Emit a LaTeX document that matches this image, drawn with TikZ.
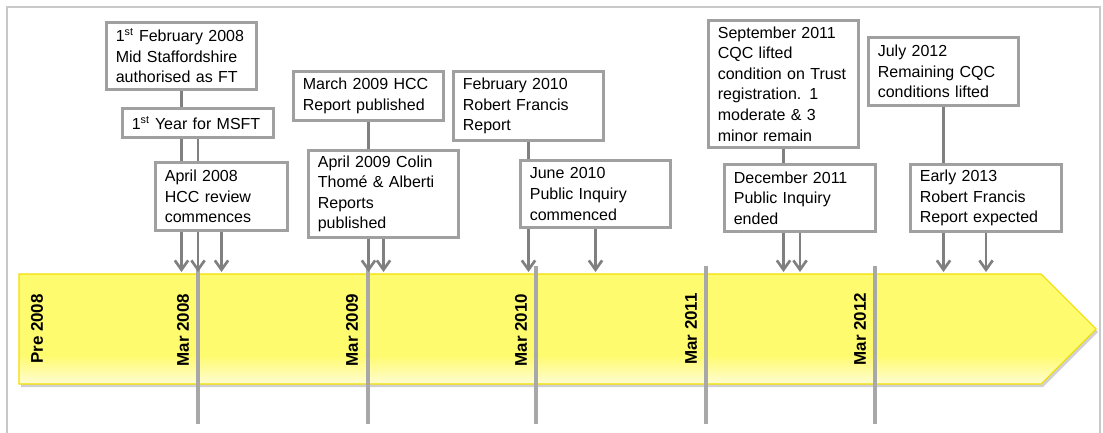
\documentclass[tikz,border=0pt]{standalone}
\usepackage{fontspec}
\setmainfont{Liberation Sans}
\usetikzlibrary{arrows.meta,backgrounds}
\definecolor{framegray}{HTML}{C8C8C8}
\definecolor{boxgray}{HTML}{A0A0A0}
\definecolor{conngray}{HTML}{808080}
\definecolor{markgray}{HTML}{A8A8A8}
\definecolor{bandyel}{HTML}{FFFB6F}
\definecolor{bandlight}{HTML}{FFFDD2}
\definecolor{bandedge}{HTML}{F2DE00}
\pgfdeclareverticalshading{bandshade}{100bp}{color(0bp)=(bandlight); color(25bp)=(bandlight); color(38bp)=(bandyel); color(100bp)=(bandyel)}
\newcommand{\tlbox}[6]{%
  \pgfmathsetmacro{\tlbw}{(#4-#2-3)*0.75}%
  \pgfmathsetmacro{\tlbh}{(#5-#3-3)*0.75}%
  \pgfmathsetmacro{\tltw}{\tlbw-14}%
  \node[evbox, minimum width=\tlbw pt, minimum height=\tlbh pt, text width=\tltw pt] (#1) at ({(#2+#4)/2},{(#3+#5)/2}) {#6};}
\begin{document}
\begin{tikzpicture}[x=0.75pt,y=-0.75pt,
  evbox/.style={draw=boxgray, line width=2.2pt, fill=white, align=left, inner xsep=7pt, inner ysep=1pt, font=\fontsize{12pt}{15.4pt}\selectfont},
  conn/.style={draw=conngray, line width=2pt, -{Straight Barb[length=7pt,width=10pt]}},
  marker/.style={draw=markgray, line width=2.6pt},
  yrlabel/.style={rotate=90, font=\fontsize{12.7pt}{15pt}\selectfont\bfseries, inner sep=0pt}]
\useasboundingbox (0,0) rectangle (1103,432);

% event boxes
\tlbox{b1}{105}{21}{258}{91}{1\textsuperscript{st} February 2008\\Mid Staffordshire\\authorised as FT}
\tlbox{b2}{121}{107}{275}{139}{1\textsuperscript{st} Year for MSFT}
\tlbox{b3}{154}{161}{289}{232}{April 2008\\HCC review\\commences}
\tlbox{b4}{292}{70}{445}{122}{March 2009 HCC\\Report published}
\tlbox{b5}{307}{149}{460}{239}{April 2009 Colin\\Thomé \& Alberti\\Reports\\published}
\tlbox{b6}{452}{70}{605}{142}{February 2010\\Robert Francis\\Report}
\tlbox{b7}{519}{159}{672}{229}{June 2010\\Public Inquiry\\commenced}
\tlbox{b8}{707}{19}{860}{149}{September 2011\\CQC lifted\\condition on Trust\\registration. 1\\moderate \& 3\\minor remain}
\tlbox{b9}{867}{36}{1020}{107}{July 2012\\Remaining CQC\\conditions lifted}
\tlbox{b10}{723}{163}{877}{233}{December 2011\\Public Inquiry\\ended}
\tlbox{b11}{909}{163}{1063}{233}{Early 2013\\Robert Francis\\Report expected}

% year labels
\node[yrlabel] (lpre) at (37,329) {Pre 2008};
\node[yrlabel] (l08) at (183,330) {Mar 2008};
\node[yrlabel] (l09) at (352,330) {Mar 2009};
\node[yrlabel] (l10) at (521,330) {Mar 2010};
\node[yrlabel] (l11) at (691,329) {Mar 2011};
\node[yrlabel] (l12) at (860,329) {Mar 2012};

\coordinate (bandtop) at (0,272);

\begin{scope}[on background layer]
  % frame
  \draw[framegray, line width=1.6pt] (7,445) -- (7,7) -- (1100,7) -- (1100,445);
  % band shadow and band
  \fill[black, opacity=0.18] (21,277) -- (1043,277) -- (1098,332) -- (1043,387) -- (21,387) -- cycle;
  \shadedraw[shading=bandshade, draw=bandedge, line width=0.8pt] (19,274) -- (1041,274) -- (1096,329) -- (1041,384) -- (19,384) -- cycle;
  % year marker lines
  \foreach \mx in {198,368,536,706,875}
    \draw[marker] (\mx,266) -- (\mx,424);
  % connectors
  \foreach \b in {b1,b2,b3,b4,b5,b6,b7,b8,b9,b10,b11}
    \draw[conn] (\b.south) -- (\b.south |- bandtop);
\end{scope}
\end{tikzpicture}
\end{document}
